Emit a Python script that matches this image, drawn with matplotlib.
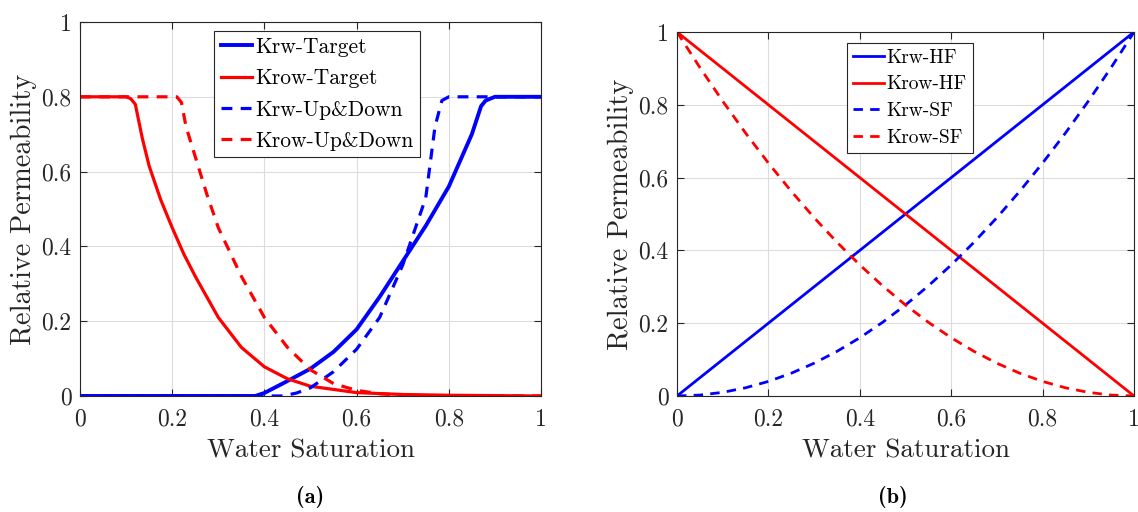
import matplotlib
matplotlib.use("Agg")
import matplotlib.pyplot as plt

plt.rcParams['font.family'] = 'cmr10'
plt.rcParams['mathtext.fontset'] = 'cm'
plt.rcParams['axes.unicode_minus'] = False

# ---- panel (a) data ----
sw_krw_t = [0.0, 0.1, 0.2, 0.3, 0.38, 0.40, 0.45, 0.50, 0.55, 0.60, 0.65, 0.70, 0.75, 0.80, 0.85, 0.87, 0.88, 0.90, 1.0]
krw_t = [0.0, 0.0, 0.0, 0.0, 0.0, 0.008, 0.040, 0.073, 0.118, 0.178, 0.265, 0.36, 0.455, 0.56, 0.70, 0.775, 0.79, 0.80, 0.80]

sw_krow_t = [0.0, 0.05, 0.10, 0.11, 0.12, 0.135, 0.15, 0.175, 0.20, 0.225, 0.25, 0.30, 0.35, 0.40, 0.45, 0.50, 0.60, 0.70, 0.80, 0.90, 1.0]
krow_t = [0.80, 0.80, 0.80, 0.795, 0.78, 0.69, 0.615, 0.525, 0.45, 0.38, 0.32, 0.21, 0.13, 0.078, 0.046, 0.026, 0.009, 0.004, 0.002, 0.001, 0.0]

sw_krw_ud = [0.0, 0.2, 0.44, 0.47, 0.50, 0.55, 0.60, 0.65, 0.70, 0.75, 0.77, 0.785, 0.80, 1.0]
krw_ud = [0.0, 0.0, 0.0, 0.008, 0.022, 0.065, 0.125, 0.21, 0.35, 0.53, 0.72, 0.79, 0.80, 0.80]

sw_krow_ud = [0.0, 0.1, 0.21, 0.22, 0.23, 0.25, 0.275, 0.30, 0.35, 0.40, 0.45, 0.50, 0.55, 0.60, 0.65, 0.70, 0.80, 1.0]
krow_ud = [0.80, 0.80, 0.80, 0.785, 0.72, 0.64, 0.54, 0.45, 0.32, 0.21, 0.13, 0.07, 0.033, 0.015, 0.006, 0.002, 0.0, 0.0]

# ---- panel (b) data ----
sw_b = [0.0, 0.05, 0.1, 0.15, 0.2, 0.25, 0.3, 0.35, 0.4, 0.45, 0.5, 0.55, 0.6, 0.65, 0.7, 0.75, 0.8, 0.85, 0.9, 0.95, 1.0]
krw_hf = [0.0, 0.05, 0.1, 0.15, 0.2, 0.25, 0.3, 0.35, 0.4, 0.45, 0.5, 0.55, 0.6, 0.65, 0.7, 0.75, 0.8, 0.85, 0.9, 0.95, 1.0]
krow_hf = [1.0, 0.95, 0.9, 0.85, 0.8, 0.75, 0.7, 0.65, 0.6, 0.55, 0.5, 0.45, 0.4, 0.35, 0.3, 0.25, 0.2, 0.15, 0.1, 0.05, 0.0]
krw_sf = [0.0, 0.0025, 0.01, 0.0225, 0.04, 0.0625, 0.09, 0.1225, 0.16, 0.2025, 0.25, 0.3025, 0.36, 0.4225, 0.49, 0.5625, 0.64, 0.7225, 0.81, 0.9025, 1.0]
krow_sf = [1.0, 0.9025, 0.81, 0.7225, 0.64, 0.5625, 0.49, 0.4225, 0.36, 0.3025, 0.25, 0.2025, 0.16, 0.1225, 0.09, 0.0625, 0.04, 0.0225, 0.01, 0.0025, 0.0]

ticks = [0, 0.2, 0.4, 0.6, 0.8, 1]
tick_labels = ['0', '0.2', '0.4', '0.6', '0.8', '1']

fig = plt.figure(figsize=(11.38, 5.12), dpi=100)
ax1 = fig.add_axes([0.0703, 0.2266, 0.4051, 0.7304])
ax2 = fig.add_axes([0.5949, 0.2266, 0.4016, 0.7109])

dash = (0, (3.4, 2.6))


def style(ax):
    ax.set_xlim(0, 1)
    ax.set_ylim(0, 1)
    ax.set_xticks(ticks)
    ax.set_yticks(ticks)
    ax.set_xticklabels(tick_labels)
    ax.set_yticklabels(tick_labels)
    ax.tick_params(direction='in', top=True, right=True, length=5, width=0.8,
                   labelsize=17, colors='#262626')
    ax.tick_params(axis='x', pad=9)
    ax.tick_params(axis='y', pad=6)
    ax.grid(True, color='#dcdcdc', linewidth=0.8)
    ax.set_axisbelow(True)
    for s in ax.spines.values():
        s.set_color('#262626')
        s.set_linewidth(0.8)
    ax.set_xlabel('Water Saturation', fontsize=19.5, labelpad=6, color='#262626')
    ax.set_ylabel('Relative Permeability', fontsize=20.5, labelpad=3, color='#262626')


ax1.plot(sw_krw_t, krw_t, color='#0000ff', lw=2.8, label='Krw-Target')
ax1.plot(sw_krow_t, krow_t, color='#ff0000', lw=2.3, label='Krow-Target')
ax1.plot(sw_krw_ud, krw_ud, color='#0000ff', lw=2.3, ls=dash, label='Krw-Up&Down')
ax1.plot(sw_krow_ud, krow_ud, color='#ff0000', lw=2.3, ls=dash, label='Krow-Up&Down')
style(ax1)
leg1 = ax1.legend(loc='upper left', bbox_to_anchor=(0.291, 0.976), fontsize=15.5,
                  fancybox=False, edgecolor='#262626', framealpha=1,
                  handlelength=1.45, handletextpad=0.15, borderpad=0.3,
                  labelspacing=0.55, borderaxespad=0)
leg1.get_frame().set_linewidth(0.8)

ax2.plot(sw_b, krw_hf, color='#0000ff', lw=2.0, label='Krw-HF')
ax2.plot(sw_b, krow_hf, color='#ff0000', lw=2.0, label='Krow-HF')
ax2.plot(sw_b, krw_sf, color='#0000ff', lw=2.0, ls=dash, label='Krw-SF')
ax2.plot(sw_b, krow_sf, color='#ff0000', lw=2.0, ls=dash, label='Krow-SF')
style(ax2)
leg2 = ax2.legend(loc='upper left', bbox_to_anchor=(0.372, 0.970), fontsize=14,
                  fancybox=False, edgecolor='#262626', framealpha=1,
                  handlelength=1.6, handletextpad=0.15, borderpad=0.3,
                  labelspacing=0.45, borderaxespad=0)
leg2.get_frame().set_linewidth(0.8)

fig.text(0.2729, 0.029, '(a)', fontsize=16, fontfamily='cmb10', ha='center', va='center')
fig.text(0.7847, 0.029, '(b)', fontsize=16, fontfamily='cmb10', ha='center', va='center')

fig.savefig('out.png', dpi=100)
